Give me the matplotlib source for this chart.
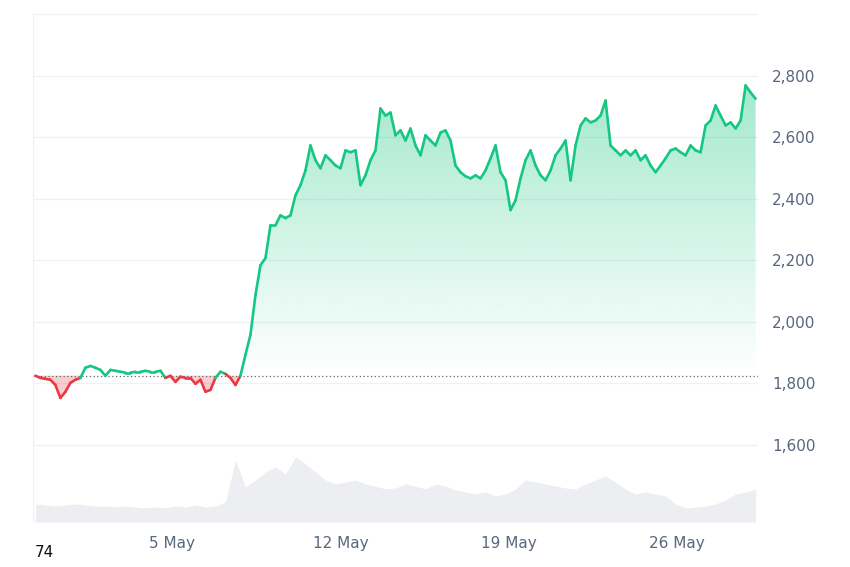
import numpy as np
import pandas as pd
import matplotlib
matplotlib.use("Agg")
import matplotlib.pyplot as plt
from matplotlib.patches import Polygon

start_time = "2025-04-29 07:00"
step = "5h"
prices = [1825,1818,1815,1812,1795,1753,1773,1802,1812,1818,1851,1857,1851,1844,1825,1844,1841,1838,1835,1835,
          1838,1838,1841,1838,1838,1841,1818,1825,1805,1822,1818,1818,1799,1812,1773,1779,1818,1838,1831,1818,
          1795,1825,1893,1958,2087,2184,2207,2314,2314,2346,2337,2346,2411,2444,2492,2573,2525,2499,2541,2525,
          2508,2499,2557,2551,2557,2444,2476,2525,2557,2693,2670,2680,2606,2622,2589,2628,2573,2541,2606,2589,
          2573,2615,2622,2589,2508,2486,2473,2466,2476,2466,2492,2531,2573,2486,2460,2363,2395,2466,2525,2557,
          2508,2476,2460,2492,2541,2563,2589,2460,2573,2638,2661,2648,2654,2670,2719,2573,2557,2541,2557,2541,
          2557,2525,2541,2508,2486,2508,2531,2557,2563,2551,2541,2573,2557,2551,2638,2654,2703,2670,2638,2648,
          2628,2654,2768,2745,2725]
baseline = 1825
vol_step = "10h"
volume = [18,17,16,17,18,17,16,16,15,16,15,14,15,14,16,15,17,15,16,20,62,35,42,50,55,48,65,58,50,42,
          38,40,42,38,36,33,34,38,36,33,38,36,32,30,28,30,26,28,33,42,40,38,36,34,33,38,42,46,40,33,
          28,30,28,26,18,14,15,16,18,22,28,30,33]
yticks = [1600,1800,2000,2200,2400,2600,2800]
xtick_dates = ["2025-05-05","2025-05-12","2025-05-19","2025-05-26"]
xtick_labels = ["5 May","12 May","19 May","26 May"]

t = pd.date_range(start_time, periods=len(prices), freq=step)
x = matplotlib.dates.date2num(t)
p = np.array(prices, float)
tv = pd.date_range(start_time, periods=len(volume), freq=vol_step)
xv = matplotlib.dates.date2num(tv)

green = "#16c784"; red = "#ea3943"
fig = plt.figure(figsize=(8.5, 5.67), dpi=100)
ax = fig.add_axes([33/850, 1-522/567, 725/850, 508/567])
ymin, ymax = 1350, 3000
xmin, xmax = x[0]-0.1, x[-1]+0.1
ax.set_xlim(xmin, xmax); ax.set_ylim(ymin, ymax)

axv = ax.twinx()
axv.set_ylim(0, 508)
axv.fill_between(xv, 0, volume, color="#eceef1", lw=0, zorder=0)
axv.set_yticks([]); axv.axis("off")
ax.set_zorder(axv.get_zorder()+1); ax.patch.set_visible(False)

grad = np.linspace(0, 1, 256).reshape(-1, 1)
cmap = matplotlib.colors.LinearSegmentedColormap.from_list(
    "g", [(22/255,199/255,132/255,0.40),(22/255,199/255,132/255,0.0)])
im = ax.imshow(grad, extent=[xmin, xmax, baseline, 2780], aspect="auto", cmap=cmap,
               origin="upper", zorder=1, interpolation="bilinear")
ax.set_xlim(xmin, xmax); ax.set_ylim(ymin, ymax)
up = np.maximum(p, baseline)
poly = Polygon(np.column_stack([np.r_[x, x[::-1]], np.r_[up, np.full(len(x), baseline)]]),
               closed=True, transform=ax.transData)
im.set_clip_path(poly)
ax.fill_between(x, p, baseline, where=p < baseline, interpolate=True, color=red, alpha=0.25, lw=0, zorder=1)

for i in range(len(x)-1):
    y0, y1 = p[i], p[i+1]
    c = green if (y0+y1)/2 >= baseline else red
    ax.plot(x[i:i+2], [y0, y1], color=c, lw=1.9, solid_capstyle="round", zorder=3)
ax.axhline(baseline, color="#666", ls=(0,(1,2)), lw=0.9, zorder=2)

for yt in yticks:
    ax.axhline(yt, color="#eff2f5", lw=1, zorder=0)
ax.axhline(ymax, color="#eff2f5", lw=1)
ax.yaxis.tick_right()
ax.set_yticks(yticks)
ax.set_yticklabels([f"{v:,}" for v in yticks])
ax.set_xticks(matplotlib.dates.date2num(pd.to_datetime(xtick_dates)))
ax.set_xticklabels(xtick_labels)
ax.tick_params(length=0, colors="#58667e", labelsize=11, pad=10)
for s in ["top", "right", "bottom"]:
    ax.spines[s].set_visible(False)
ax.spines["left"].set_color("#eff2f5")
fig.text(35/850, 1-560/567, "74", fontsize=11, color="#111", va="bottom")
fig.savefig("out.png", dpi=100)
